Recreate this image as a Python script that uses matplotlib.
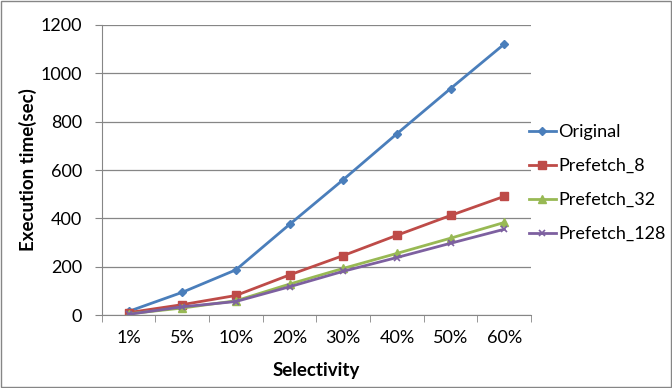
import numpy as np
import matplotlib.pyplot as plt
from matplotlib.patches import Rectangle

categories = ["1%", "5%", "10%", "20%", "30%", "40%", "50%", "60%"]
original = [15, 94, 187, 375, 560, 750, 937, 1121]
prefetch_8 = [10, 43, 81, 166, 246, 330, 412, 491]
prefetch_32 = [5, 29, 59, 128, 193, 255, 318, 383]
prefetch_128 = [3, 34, 56, 117, 181, 238, 297, 355]

plt.rcParams['font.family'] = ['Lato', 'DejaVu Sans']

fig = plt.figure(figsize=(6.72, 3.88), dpi=100)
ax = fig.add_axes([0.1513, 0.188, 0.639, 0.7476])

x = np.arange(len(categories))
ax.plot(x, original, color='#4A7EBB', marker='D', markersize=4.5, lw=2, label='Original')
ax.plot(x, prefetch_8, color='#BE4B48', marker='s', markersize=5.5, lw=2, label='Prefetch_8')
ax.plot(x, prefetch_32, color='#98B954', marker='^', markersize=6, lw=2, label='Prefetch_32')
ax.plot(x, prefetch_128, color='#7D60A0', marker='x', markersize=5, mew=1.2, lw=2, label='Prefetch_128')

ax.set_xlim(-0.5, len(categories) - 0.5)
ax.set_ylim(0, 1200)
ax.set_yticks(range(0, 1201, 200))
ax.set_xticks(x)
ax.set_xticklabels(categories, fontsize=13)
ax.set_xticks(np.arange(-0.5, len(categories), 1), minor=True)
ax.tick_params(axis='x', which='major', length=0, pad=11)
ax.tick_params(axis='x', which='minor', length=5, color='#868686', direction='out')
ax.tick_params(axis='y', length=5, color='#868686', labelsize=13, pad=9)

ax.grid(axis='y', color='#868686', lw=0.9)
ax.set_axisbelow(True)
for s in ['top', 'right']:
    ax.spines[s].set_visible(False)
for s in ['left', 'bottom']:
    ax.spines[s].set_color('#868686')

ax.set_xlabel('Selectivity', fontsize=13.5, fontweight='bold', labelpad=11)
ax.set_ylabel('Execution time(sec)', fontsize=13.5, fontweight='bold', labelpad=3)

ax.legend(loc='center left', bbox_to_anchor=(0.965, 0.455), frameon=False, fontsize=13,
          handlelength=1.5, handletextpad=0.15, labelspacing=1.0, borderaxespad=0.3)

fig.patches.append(Rectangle((0.002, 0.003), 0.996, 0.994, transform=fig.transFigure,
                             fill=False, edgecolor='#868686', lw=1))

fig.savefig('out.png', dpi=100)
